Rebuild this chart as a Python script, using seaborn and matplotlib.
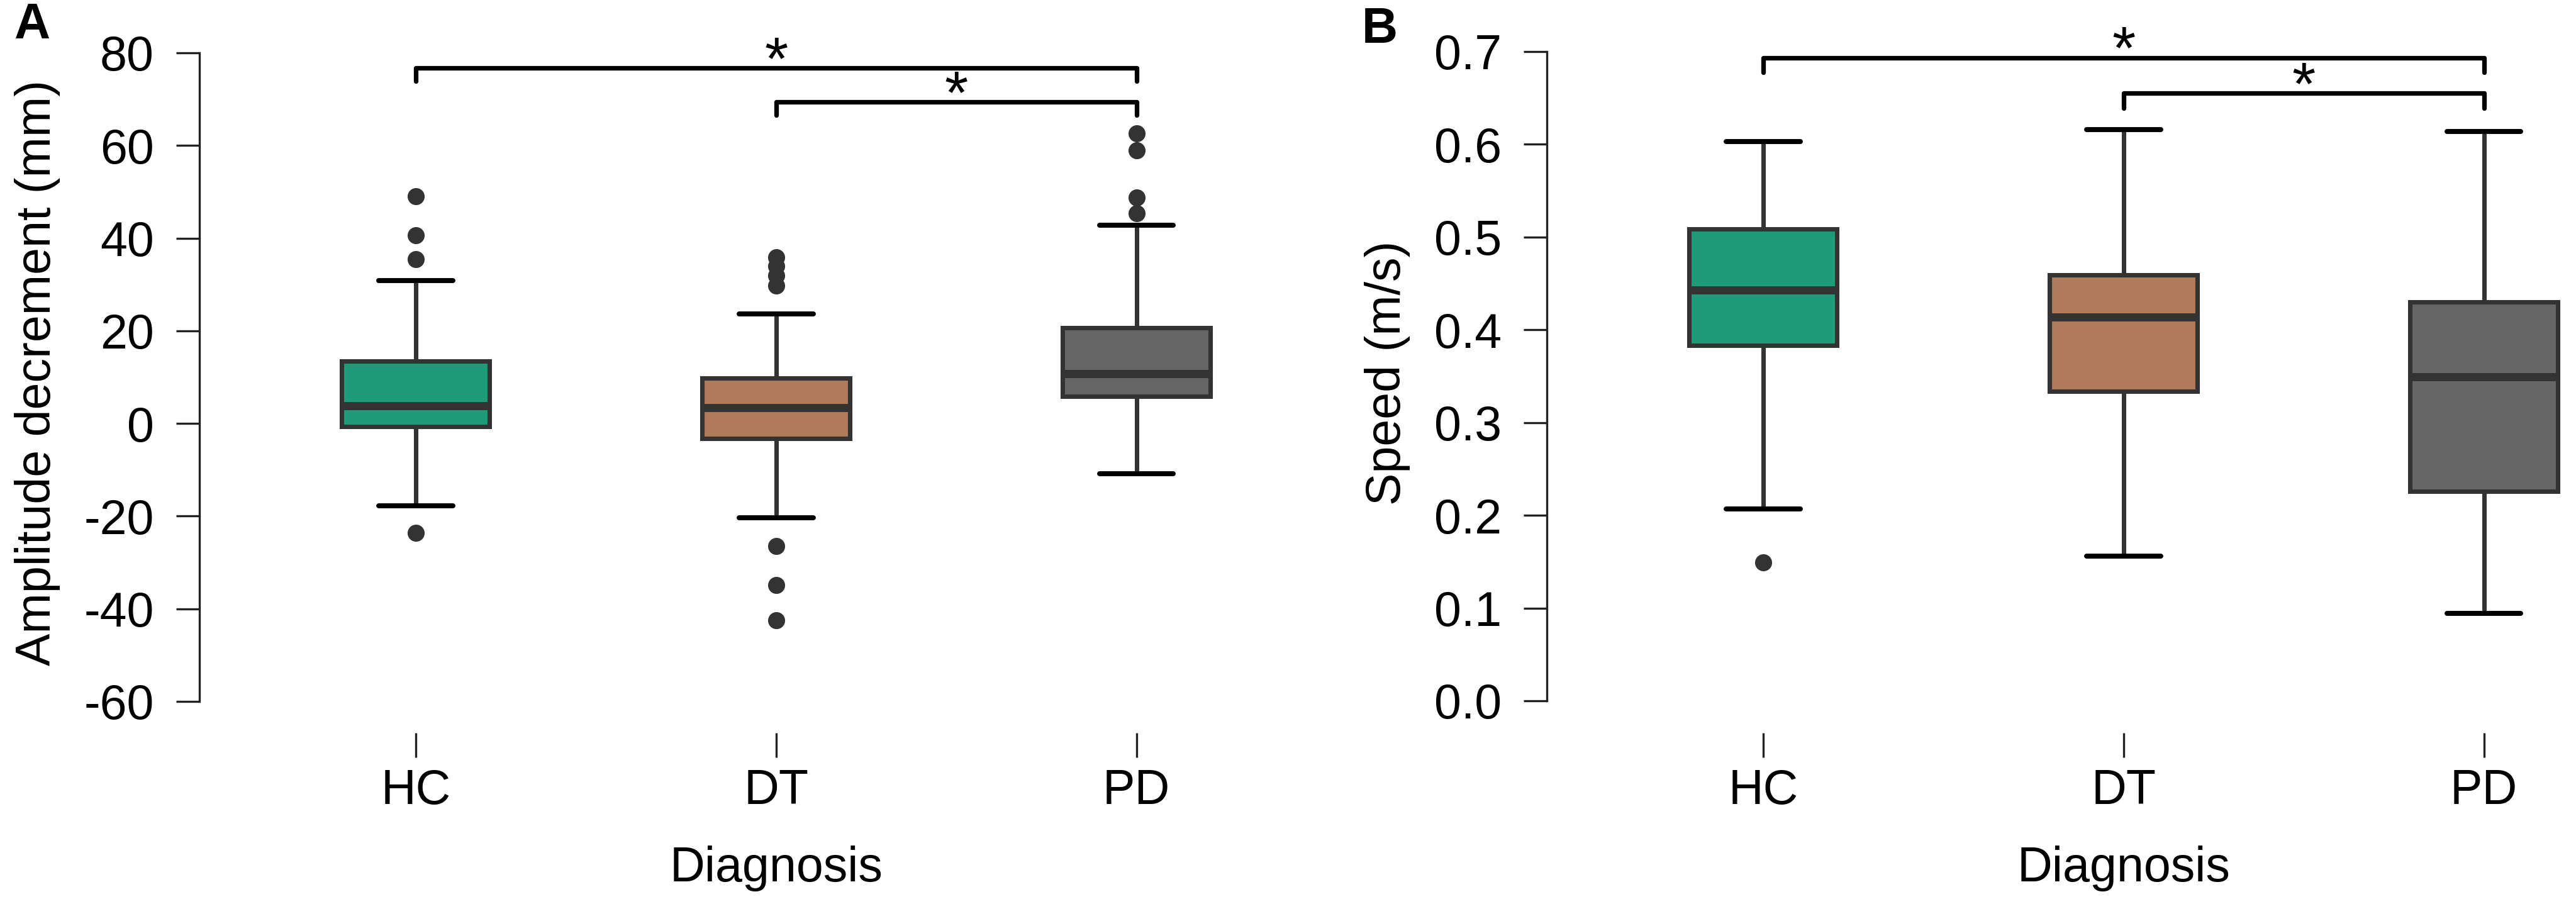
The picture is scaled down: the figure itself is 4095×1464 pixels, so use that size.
import pandas as pd
import seaborn as sns
import matplotlib.pyplot as plt

categories = ['HC', 'DT', 'PD']
palette = ['#1d9c77', '#b07b5b', '#666666']

# Panel A: amplitude decrement (mm), box summaries
amp_whislo = [-17.8, -20.3, -10.9]
amp_q1 = [-0.6, -3.2, 5.8]
amp_median = [3.8, 3.4, 10.8]
amp_q3 = [13.5, 9.8, 20.7]
amp_whishi = [30.9, 23.6, 42.8]
amp_out_low = [[-23.6], [-26.5, -34.9, -42.5], []]
amp_out_high = [[35.5, 40.6, 49.1], [29.8, 31.9, 34.0, 35.9], [45.4, 48.8, 58.9, 62.6]]

# Panel B: speed (m/s)
spd_whislo = [0.207, 0.156, 0.094]
spd_q1 = [0.383, 0.334, 0.226]
spd_median = [0.443, 0.414, 0.349]
spd_q3 = [0.509, 0.459, 0.430]
spd_whishi = [0.603, 0.616, 0.614]
spd_out_low = [[0.149], [], []]
spd_out_high = [[], [], []]

# significance brackets: (from, to, height)
amp_brackets = [(0, 2, 76.7), (1, 2, 69.4)]
spd_brackets = [(0, 2, 0.6934), (1, 2, 0.6549)]


def box_table(whislo, q1, med, q3, whishi, out_low, out_high):
    # 21 values per group, laid out so numpy's quartiles land on q1/median/q3
    rows = []
    for i, cat in enumerate(categories):
        lo, hi = out_low[i], out_high[i]
        vals = (lo + [whislo[i]] + [q1[i]] * (9 - len(lo)) + [med[i]]
                + [q3[i]] * (9 - len(hi)) + [whishi[i]] + hi)
        rows += [(cat, v) for v in vals]
    return pd.DataFrame(rows, columns=['Diagnosis', 'value'])


def draw_panel(ax, df, ylim, bounds, yticks, yticklabels, ylabel, brackets, tip):
    sns.boxplot(data=df, x='Diagnosis', y='value', hue='Diagnosis',
                order=categories, hue_order=categories, palette=palette,
                saturation=1, width=0.41, linecolor='#333333', linewidth=1.7,
                legend=False, ax=ax,
                medianprops=dict(linewidth=3.1, color='#333333'),
                whiskerprops=dict(linewidth=1.7, color='#333333'),
                capprops=dict(linewidth=1.9, color='black'),
                flierprops=dict(marker='o', markersize=5.5,
                                markerfacecolor='#333333',
                                markeredgecolor='#333333'))
    ax.set_xlim(-0.6, 2.25)
    ax.set_ylim(*ylim)
    ax.set_yticks(yticks)
    ax.set_yticklabels(yticklabels)
    for side in ['top', 'right', 'bottom']:
        ax.spines[side].set_visible(False)
    ax.spines['left'].set_bounds(*bounds)
    ax.spines['left'].set_linewidth(0.8)
    ax.spines['left'].set_color('#222222')
    ax.tick_params(axis='y', left=True, direction='out', length=8.9,
                   width=0.8, color='#222222', labelcolor='black',
                   labelsize=18.5, pad=8.4)
    ax.tick_params(axis='x', bottom=True, direction='out', length=9.4,
                   width=0.8, color='#222222', labelcolor='black',
                   labelsize=18.5, pad=4)
    ax.set_xlabel('Diagnosis', fontsize=18.5, color='black', labelpad=12,
                  x=1.6 / 2.85)
    ax.set_ylabel(ylabel, fontsize=18.5, color='black', labelpad=9)

    for x1, x2, y in brackets:
        ax.plot([x1, x1, x2, x2], [y - tip, y, y, y - tip], color='black',
                lw=1.75, solid_capstyle='round', solid_joinstyle='round',
                clip_on=False)
        ax.annotate('*', xy=((x1 + x2) / 2, y), xytext=(0, -4),
                    textcoords='offset points', ha='center', va='baseline',
                    fontsize=23, color='black', annotation_clip=False)


sns.set_style('ticks')
plt.rcParams['font.family'] = ['Liberation Sans', 'DejaVu Sans']
plt.rcParams['axes.unicode_minus'] = False

fig = plt.figure(figsize=(13.65, 4.88), dpi=300)
ax_a = fig.add_axes([317 / 4095, 1 - 1165 / 1464, 1633 / 4095, 1145 / 1464])
ax_b = fig.add_axes([2459 / 4095, 1 - 1165 / 1464, 1633 / 4095, 1145 / 1464])

amp = box_table(amp_whislo, amp_q1, amp_median, amp_q3, amp_whishi,
                amp_out_low, amp_out_high)
spd = box_table(spd_whislo, spd_q1, spd_median, spd_q3, spd_whishi,
                spd_out_low, spd_out_high)

draw_panel(ax_a, amp, (-66.79, 88.69), (-60, 80), list(range(-60, 81, 20)),
           [str(v) for v in range(-60, 81, 20)],
           'Amplitude decrement (mm)', amp_brackets, 2.8)
spd_ticks = [i / 10 for i in range(8)]
draw_panel(ax_b, spd, (-0.0346, 0.742), (0, 0.7), spd_ticks,
           [f'{v:.1f}' for v in spd_ticks], 'Speed (m/s)', spd_brackets, 0.016)

fig.text(22 / 4095, 1 - 3 / 1464, 'A', fontsize=19, fontweight='bold',
         color='black', ha='left', va='top')
fig.text(2165 / 4095, 1 - 10 / 1464, 'B', fontsize=19, fontweight='bold',
         color='black', ha='left', va='top')

fig.savefig('out.png', dpi=300, facecolor='white')
